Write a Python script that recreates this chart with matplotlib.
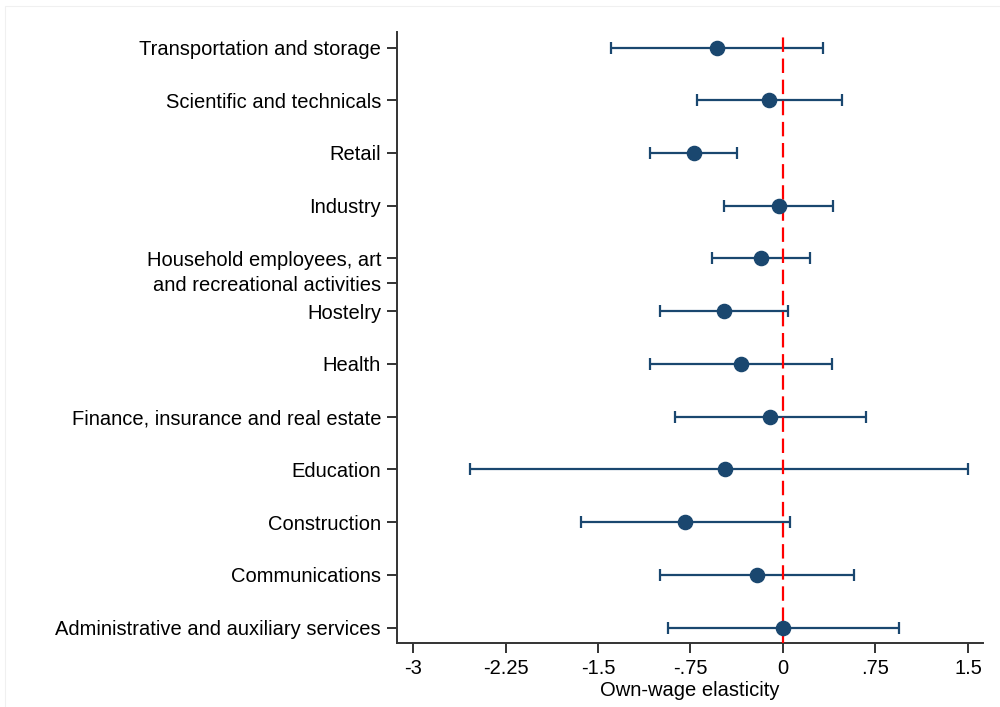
import matplotlib
matplotlib.use("Agg")
import matplotlib.pyplot as plt
from matplotlib.patches import Rectangle

plt.rcParams['font.family'] = ['Liberation Sans', 'DejaVu Sans']

# Sectors from bottom to top
sectors = [
    "Administrative and auxiliary services",
    "Communications",
    "Construction",
    "Education",
    "Finance, insurance and real estate",
    "Health",
    "Hostelry",
    "Household employees, art\nand recreational activities",
    "Industry",
    "Retail",
    "Scientific and technicals",
    "Transportation and storage",
]
elasticity = [0.0, -0.211, -0.792, -0.470, -0.103, -0.341, -0.478, -0.181, -0.035, -0.724, -0.111, -0.535]
ci_low = [-0.933, -1.000, -1.641, -2.538, -0.877, -1.081, -0.995, -0.578, -0.476, -1.076, -0.700, -1.395]
ci_high = [0.943, 0.576, 0.057, 1.500, 0.675, 0.397, 0.043, 0.221, 0.408, -0.373, 0.478, 0.328]

x_ticks = [-3, -2.25, -1.5, -0.75, 0, 0.75, 1.5]
x_tick_labels = ["-3", "-2.25", "-1.5", "-.75", "0", ".75", "1.5"]

navy = "#1a476f"

fig = plt.figure(figsize=(10, 7.07), dpi=100)
ax = fig.add_axes([0.397, 0.0905, 0.586, 0.8642])

ypos = list(range(1, len(sectors) + 1))

# confidence intervals
ax.errorbar(elasticity, ypos,
            xerr=[[e - lo for e, lo in zip(elasticity, ci_low)],
                  [hi - e for e, hi in zip(elasticity, ci_high)]],
            fmt="none", ecolor=navy, elinewidth=1.6, capsize=4.5, capthick=1.6,
            zorder=2)
# reference line at zero
ax.axvline(0, color="#ff0000", lw=1.6, linestyle=(0, (6.5, 3.0)), zorder=3)
# point estimates
ax.plot(elasticity, ypos, "o", color=navy, markersize=10.2, zorder=4)

ax.set_xlim(-3.13, 1.622)
ax.set_ylim(0.706, 12.294)

# y tick labels; the two-line sector gets one tick per line
yt, yl = [], []
for y, name in zip(ypos, sectors):
    parts = name.split("\n")
    if len(parts) == 1:
        yt.append(y)
        yl.append(name)
    else:
        yt.extend([y, y - 0.475])
        yl.extend(parts)
ax.set_yticks(yt)
ax.set_yticklabels(yl, fontsize=14.5)

ax.set_xticks(x_ticks)
ax.set_xticklabels(x_tick_labels, fontsize=14.5)
ax.set_xlabel("Own-wage elasticity", fontsize=14.5, labelpad=2)

for side in ("top", "right"):
    ax.spines[side].set_visible(False)
for side in ("left", "bottom"):
    ax.spines[side].set_color("#333333")
    ax.spines[side].set_linewidth(1.4)
ax.tick_params(axis="both", length=7.5, width=1.4, color="#333333",
               labelcolor="black", pad=4)

# faint outer border of the graph region
fig.patches.append(Rectangle((0.005, -0.01), 1.0, 1.0015, transform=fig.transFigure,
                             fill=False, edgecolor="#f0f0f0", lw=0.8))

fig.savefig("out.png", dpi=100, facecolor="white")
